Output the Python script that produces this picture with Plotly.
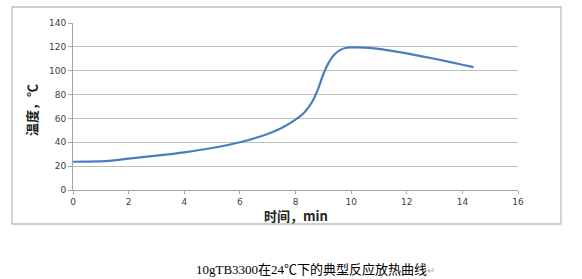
import plotly.graph_objects as go

time_min = [0, 0.5, 1.2, 2, 3, 4, 5, 6, 7, 7.5, 8, 8.3, 8.6, 8.8, 9.0, 9.2, 9.4, 9.6, 9.8, 10.0, 10.5, 11, 12, 13, 14, 14.4]
temp_c = [23.7, 23.8, 24.2, 26.3, 28.8, 31.6, 35.2, 40, 47, 52, 59, 64.5, 74, 84, 97, 107, 113.5, 117.3, 119, 119.5, 119.4, 118.3, 114.5, 110, 105, 103]

x_ticks = [0, 2, 4, 6, 8, 10, 12, 14, 16]
y_ticks = [0, 20, 40, 60, 80, 100, 120, 140]

x_title = "时间，min"
y_title = "温度，℃"
caption = "10gTB3300在24℃下的典型反应放热曲线"

fig = go.Figure()
fig.add_trace(go.Scatter(x=time_min, y=temp_c, mode="lines",
                         line=dict(color="#4A7EBB", width=2.2, shape="spline", smoothing=0.6),
                         showlegend=False, hoverinfo="skip"))

tick_font = dict(family="DejaVu Sans, Arial", size=9, color="#404040")
fig.update_layout(
    width=582, height=279,
    margin=dict(l=73, r=64, t=23, b=89),
    paper_bgcolor="white", plot_bgcolor="white",
    xaxis=dict(range=[0, 16], tickvals=x_ticks, showgrid=False, zeroline=False,
               showline=True, linecolor="#a6a6a6", linewidth=1,
               ticks="outside", ticklen=3, tickcolor="#a6a6a6",
               tickfont=tick_font, fixedrange=True),
    yaxis=dict(range=[0, 140], tickvals=y_ticks, showgrid=True, gridcolor="#bfbfbf",
               gridwidth=1, zeroline=False, showline=True, linecolor="#a6a6a6",
               ticks="outside", ticklen=4, tickcolor="#a6a6a6",
               tickfont=tick_font, fixedrange=True),
    shapes=[dict(type="rect", xref="paper", yref="paper",
                 x0=-0.137, x1=1.0966, y0=-0.2036, y1=1.0958,
                 line=dict(color="#bfbfbf", width=1.3))],
    annotations=[
        dict(text=x_title, xref="paper", yref="paper", x=0.5, y=-0.15,
             showarrow=False, xanchor="center", yanchor="middle",
             font=dict(family="Noto Sans CJK SC, DejaVu Sans", size=13, color="#222", weight="bold")),
        dict(text=y_title, xref="paper", yref="paper", x=-0.092, y=0.48,
             showarrow=False, textangle=-90, xanchor="center", yanchor="middle",
             font=dict(family="Noto Sans CJK SC, DejaVu Sans", size=13, color="#222", weight="bold")),
        dict(text=caption + "<span style='color:#aaa;font-size:10px'>↵</span>",
             xref="paper", yref="paper", x=0.546, y=-0.479,
             showarrow=False, xanchor="center", yanchor="middle",
             font=dict(family="Liberation Serif, Noto Sans CJK SC", size=13, color="#000")),
    ],
)

fig.write_html("out.html")
